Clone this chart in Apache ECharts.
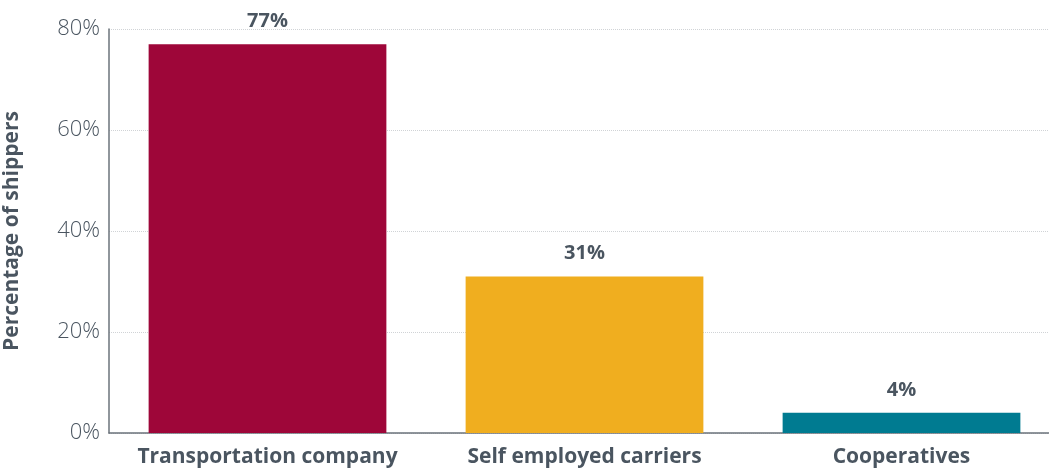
<!DOCTYPE html>
<html>
<head>
<meta charset="utf-8">
<script src="https://cdn.jsdelivr.net/npm/echarts@6/dist/echarts.min.js"></script>
<style>
  html, body { margin: 0; padding: 0; background: #fff; }
  #chart { width: 1049px; height: 475px; }
</style>
</head>
<body>
<div id="chart"></div>
<script>
const categories = ['Transportation company', 'Self employed carriers', 'Cooperatives'];
const values = [77, 31, 4];
const barColors = ['#9e0639', '#f0ae1f', '#007b91'];

const textColor = '#4a5560';
const fontFamily = '"Open Sans", sans-serif';
const chart = echarts.init(document.getElementById('chart'));

chart.setOption({
  animation: false,
  grid: { left: 109, right: -11, top: 29, bottom: 42, outerBoundsMode: 'none', containLabel: false },
  xAxis: {
    type: 'category',
    data: categories,
    axisLine: { lineStyle: { color: '#6b737b', width: 1.5 } },
    axisTick: { show: false },
    axisLabel: {
      interval: 0,
      hideOverlap: false,
      color: textColor,
      fontFamily: fontFamily,
      fontWeight: 'bold',
      fontSize: 21,
      margin: 14
    }
  },
  yAxis: {
    type: 'value',
    min: 0,
    max: 80,
    interval: 20,
    name: 'Percentage of shippers',
    nameLocation: 'middle',
    nameGap: 86,
    nameTextStyle: {
      color: textColor,
      fontFamily: fontFamily,
      fontWeight: 'bold',
      fontSize: 21
    },
    axisLine: { show: true, lineStyle: { color: '#6b737b', width: 1.5 } },
    axisTick: { show: false },
    splitLine: { lineStyle: { color: '#d0d3d6', type: 'dotted', width: 1 } },
    axisLabel: {
      formatter: '{value}%',
      color: textColor,
      fontFamily: fontFamily,
      fontWeight: 300,
      fontSize: 22,
      margin: 9
    }
  },
  series: [{
    type: 'bar',
    barWidth: '75%',
    data: values.map((v, i) => ({ value: v, itemStyle: { color: barColors[i] } })),
    label: {
      show: true,
      position: 'top',
      distance: 13,
      formatter: '{c}%',
      color: textColor,
      fontFamily: fontFamily,
      fontWeight: 'bold',
      fontSize: 20
    }
  }]
});
</script>
</body>
</html>
